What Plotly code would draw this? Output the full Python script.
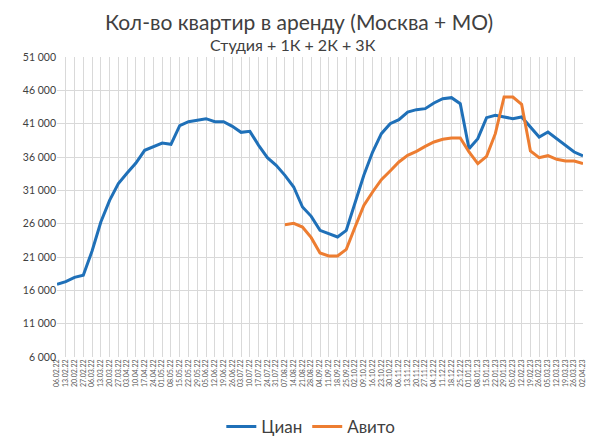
import plotly.graph_objects as go

# weekly dates (Sunday)
dates = [
    "06.02.22", "13.02.22", "20.02.22", "27.02.22", "06.03.22", "13.03.22", "20.03.22", "27.03.22",
    "03.04.22", "10.04.22", "17.04.22", "24.04.22", "01.05.22", "08.05.22", "15.05.22", "22.05.22",
    "29.05.22", "05.06.22", "12.06.22", "19.06.22", "26.06.22", "03.07.22", "10.07.22", "17.07.22",
    "24.07.22", "31.07.22", "07.08.22", "14.08.22", "21.08.22", "28.08.22", "04.09.22", "11.09.22",
    "18.09.22", "25.09.22", "02.10.22", "09.10.22", "16.10.22", "23.10.22", "30.10.22", "06.11.22",
    "13.11.22", "20.11.22", "27.11.22", "04.12.22", "11.12.22", "18.12.22", "25.12.22", "01.01.23",
    "08.01.23", "15.01.23", "22.01.23", "29.01.23", "05.02.23", "12.02.23", "19.02.23", "26.02.23",
    "05.03.23", "12.03.23", "19.03.23", "26.03.23", "02.04.23",
]

cian = [
    16900, 17300, 17950, 18250, 21900, 26250, 29500, 32000, 33600, 35100,
    37000, 37600, 38100, 37900, 40700, 41300, 41500, 41750, 41300, 41300,
    40600, 39700, 39850, 37750, 35900, 34750, 33250, 31500, 28500, 27100,
    25000, 24500, 24000, 25000, 29000, 33250, 36750, 39500, 41000, 41600,
    42750, 43100, 43250, 44100, 44750, 44900, 44000, 37250, 38750, 41900,
    42250, 42000, 41750, 42000, 40500, 39000, 39750, 38750, 37750, 36750,
    36150,
]

avito = [None] * 26 + [
    25850, 26050, 25500, 23900, 21600, 21150, 21150, 22150, 25500, 28750,
    30750, 32600, 33900, 35250, 36250, 36850, 37600, 38250, 38650, 38850,
    38850, 36750, 35000, 36100, 39500, 45000, 45000, 43900, 36900, 35900,
    36200, 35650, 35400, 35400, 35000,
]

y_ticks = list(range(6000, 51001, 5000))
y_labels = [f"{v:,}".replace(",", " ") for v in y_ticks]

idx = list(range(len(dates)))
font = "Lato"

fig = go.Figure()
fig.add_trace(go.Scatter(x=idx, y=cian, name="Циан", mode="lines",
                         line=dict(color="#1F70B8", width=3)))
fig.add_trace(go.Scatter(x=idx, y=avito, name="Авито", mode="lines",
                         line=dict(color="#ED7D31", width=3)))

# page body has an 8px margin, so the figure is a bit smaller than the window
fig.update_layout(
    width=588, height=436,
    margin=dict(l=49, r=13, t=49, b=87),
    paper_bgcolor="white", plot_bgcolor="white",
    font=dict(family=font, color="#595959"),
    showlegend=True,
    legend=dict(orientation="h", xref="container", yref="container",
                x=0.515, y=0.039, xanchor="center", yanchor="middle",
                font=dict(size=17, color="#404040")),
    annotations=[
        dict(text="Кол-во квартир в аренду (Москва + МО)", xref="paper", yref="paper",
             x=0.46, y=1.117, xanchor="center", yanchor="middle", showarrow=False,
             font=dict(size=21, color="#404040", family=font)),
        dict(text="Студия + 1К + 2К + 3К", xref="paper", yref="paper",
             x=0.448, y=1.04, xanchor="center", yanchor="middle", showarrow=False,
             font=dict(size=16, color="#404040", family=font)),
    ],
)

fig.update_xaxes(range=[0, 60], tickmode="array", tickvals=idx, ticktext=dates,
                 tickangle=-90, tickfont=dict(size=7, color="#595959"),
                 showgrid=True, gridcolor="#D9D9D9", gridwidth=1, automargin=False,
                 showline=False, zeroline=False, ticks="")
fig.update_yaxes(range=[6000, 51000], tickmode="array", tickvals=y_ticks, ticktext=y_labels,
                 tickfont=dict(size=10.5, color="#404040"),
                 showgrid=True, gridcolor="#D9D9D9", gridwidth=1, automargin=False,
                 showline=False, zeroline=False, ticks="")

fig.write_html("out.html")
